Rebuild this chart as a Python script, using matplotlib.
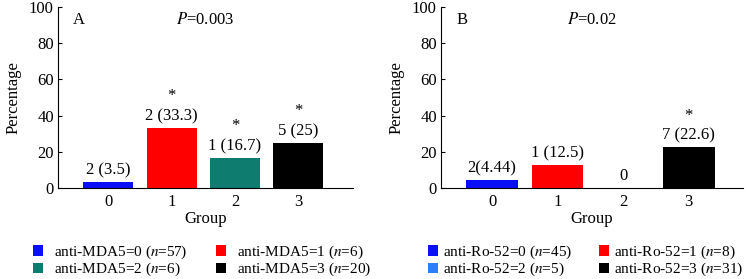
import matplotlib
matplotlib.use("Agg")
import matplotlib.pyplot as plt
from matplotlib.patches import Patch

plt.rcParams["font.family"] = ["Liberation Serif", "DejaVu Serif"]
plt.rcParams["mathtext.fontset"] = "stix"

GROUPS = [0, 1, 2, 3]

MDA5_PCT = [3.5, 33.3, 16.7, 25.0]
MDA5_LABELS = ["2 (3.5)", "2 (33.3)", "1 (16.7)", "5 (25)"]
MDA5_STAR = [False, True, True, True]
MDA5_LEGEND = [r"anti-MDA5=0 ($n$=57)", r"anti-MDA5=1 ($n$=6)",
               r"anti-MDA5=2 ($n$=6)", r"anti-MDA5=3 ($n$=20)"]
MDA5_COLORS = ["#0a10f5", "#ff0000", "#0e7c6e", "#000000"]

RO52_PCT = [4.44, 12.5, 0.0, 22.6]
RO52_LABELS = ["2(4.44)", "1 (12.5)", "0", "7 (22.6)"]
RO52_STAR = [False, False, False, True]
RO52_LEGEND = [r"anti-Ro-52=0 ($n$=45)", r"anti-Ro-52=1 ($n$=8)",
               r"anti-Ro-52=2 ($n$=5)", r"anti-Ro-52=3 ($n$=31)"]
RO52_COLORS = ["#0a10f5", "#ff0000", "#2a7fff", "#000000"]

W, H = 747, 279
FS = 12
LFS = 11


def px_axes(fig, left, top, right, bottom):
    return fig.add_axes([left / W, 1 - bottom / H, (right - left) / W, (bottom - top) / H])


def panel(fig, box, letter, ptext, pct, labels, stars, legend, colors, xlim, leg_anchor, colsp, txtpad):
    ax = px_axes(fig, *box)
    ax.bar(GROUPS, pct, width=0.79, color=colors)
    for x, v, lab, st in zip(GROUPS, pct, labels, stars):
        ax.text(x, v + 2, lab, ha="center", va="bottom", fontsize=FS)
        if st:
            ax.text(x, v + 13, "*", ha="center", va="bottom", fontsize=FS)
    ax.set_xlim(*xlim)
    ax.set_ylim(0, 100)
    ax.set_yticks([0, 20, 40, 60, 80, 100])
    ax.set_xticks(GROUPS)
    ax.tick_params(axis="x", length=0, pad=4, labelsize=FS)
    ax.tick_params(axis="y", direction="in", length=3, labelsize=FS, pad=3)
    ax.spines["top"].set_visible(False)
    ax.spines["right"].set_visible(False)
    ax.set_xlabel("Group", fontsize=FS, labelpad=1)
    ax.set_ylabel("Percentage", fontsize=FS, labelpad=5)
    ax.text(0.05, 0.93, letter, transform=ax.transAxes, fontsize=FS, va="center")
    ax.text(0.5, 0.93, ptext, transform=ax.transAxes, fontsize=FS, va="center", ha="center")
    # legend fills column-wise, so reorder to read row-wise like the original
    order = [0, 2, 1, 3]
    handles = [Patch(facecolor=colors[i], edgecolor="none") for i in order]
    texts = [legend[i] for i in order]
    fig.legend(handles, texts, loc="center left", bbox_to_anchor=leg_anchor,
               ncol=2, frameon=False, fontsize=LFS, handlelength=0.65, handleheight=0.65,
               handletextpad=txtpad, columnspacing=colsp, labelspacing=0.0,
               borderpad=0, borderaxespad=0)
    return ax


fig = plt.figure(figsize=(W / 100, H / 100), dpi=100)
panel(fig, (58, 7, 353, 188), "A", r"$P$=0.003", MDA5_PCT, MDA5_LABELS, MDA5_STAR,
      MDA5_LEGEND, MDA5_COLORS, (-0.79, 3.86), (33 / W, 1 - 261 / H), 1.9, 0.7)
panel(fig, (441, 7, 743, 188), "B", r"$P$=0.02", RO52_PCT, RO52_LABELS, RO52_STAR,
      RO52_LEGEND, RO52_COLORS, (-0.78, 3.83), (428 / W, 1 - 261 / H), 1.8, 0.3)

fig.savefig("out.png", dpi=100)
